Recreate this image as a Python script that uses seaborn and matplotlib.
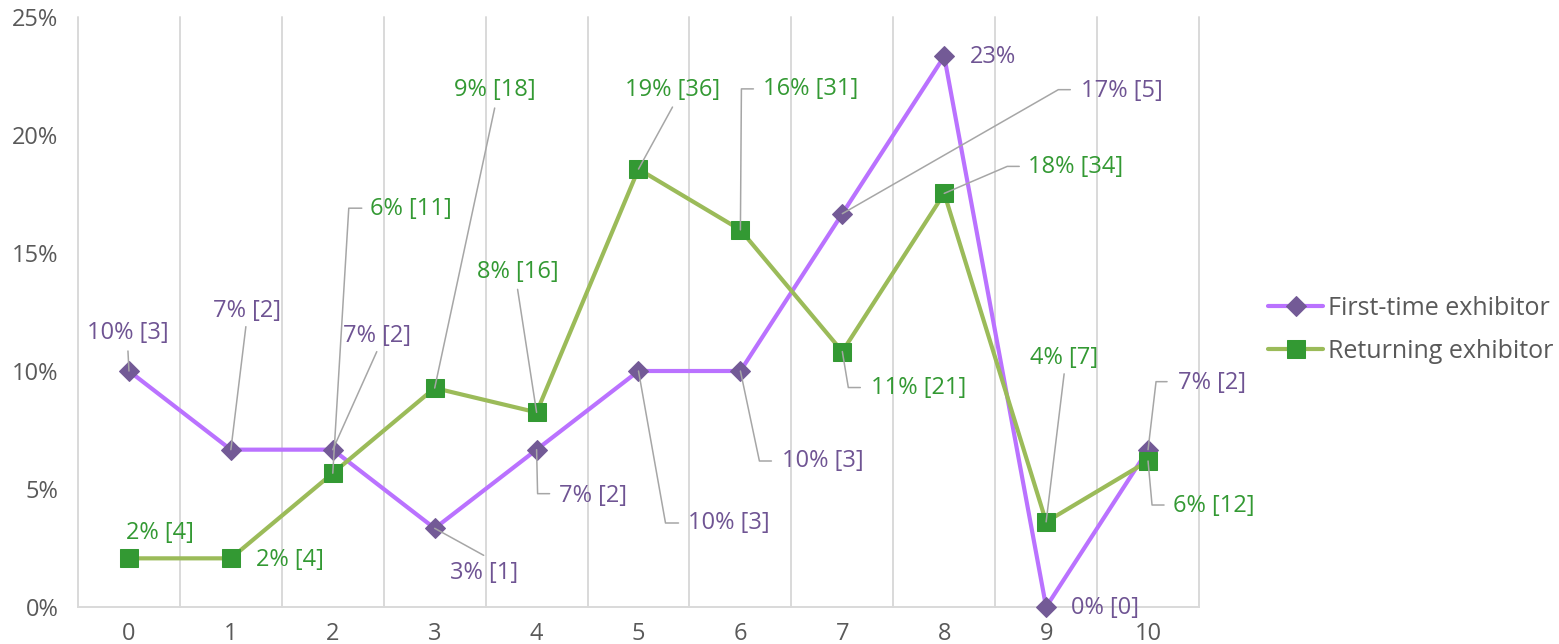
import numpy as np
import pandas as pd
import matplotlib
matplotlib.use("Agg")
import matplotlib.pyplot as plt
import seaborn as sns

# ---- data -------------------------------------------------------------
categories = list(range(11))
x_tick_labels = [str(c) for c in categories]
y_ticks = [0, 5, 10, 15, 20, 25]
y_tick_labels = [f"{t}%" for t in y_ticks]

series_names = ["First-time exhibitor", "Returning exhibitor"]
first_time_counts = [3, 2, 2, 1, 2, 3, 3, 5, 7, 0, 2]
returning_counts = [4, 4, 11, 18, 16, 36, 31, 21, 34, 7, 12]
# whether the count is printed next to the share
first_time_show_count = [True, True, True, True, True, True, True, True, False, True, True]
returning_show_count = [True] * 11

# ---- label layout: (text offset px, alignment, leader waypoints px; y down) ----
first_time_layout = [
    ((-1, -38), "center", [(-1, -20)]),
    ((16, -139), "center", [(15, -123)]),
    ((44, -114), "center", [(44, -98)]),
    ((49, 45), "center", [(49, 27)]),
    ((22, 46), "left", [(1, 44), (13, 44)]),
    ((49, 152), "left", [(27, 152), (40, 152)]),
    ((42, 90), "left", [(19, 90), (31, 90)]),
    ((239, -123), "left", [(216, -124), (228, -124)]),
    ((26, 1), "left", []),
    ((25, 1), "left", []),
    ((30, -67), "left", [(8, -68), (19, -68)]),
]
returning_layout = [
    ((31, -25), "center", []),
    ((25, 2), "left", []),
    ((37, -264), "left", [(16, -265), (29, -265)]),
    ((60, -298), "center", [(60, -280)]),
    ((-19, -140), "center", [(-19, -123)]),
    ((34, -79), "center", [(34, -62)]),
    ((23, -141), "left", [(1, -141), (13, -141)]),
    ((29, 36), "left", [(6, 36), (18, 36)]),
    ((84, -26), "left", [(63, -27), (75, -27)]),
    ((18, -164), "center", [(18, -148)]),
    ((25, 45), "left", [(4, 44), (16, 44)]),
]

# ---- styling ---------------------------------------------------------
PURPLE_LINE = "#BA72FF"
PURPLE_MARK = "#735A96"
PURPLE_TEXT = "#6F5493"
GREEN_LINE = "#9BBB59"
GREEN_MARK = "#339933"
GREEN_TEXT = "#339933"
LEADER = "#A6A6A6"
GRID = "#D9D9D9"
TICK_TEXT = "#595959"
FONT_SIZE = 17
LEGEND_SIZE = 18

sns.set_theme(style="white")
plt.rcParams["font.family"] = ["Open Sans", "DejaVu Sans"]

first_share = np.array(first_time_counts) / sum(first_time_counts) * 100
returning_share = np.array(returning_counts) / sum(returning_counts) * 100

df = pd.DataFrame({
    "category": categories * 2,
    "share": np.concatenate([first_share, returning_share]),
    "series": [series_names[0]] * 11 + [series_names[1]] * 11,
})

fig = plt.figure(figsize=(15.59, 6.44), dpi=100)
ax = fig.add_axes([78 / 1559, 37 / 644, (1199 - 78) / 1559, (607 - 17) / 644])
ax.set_xlim(-0.5, 10.5)
ax.set_ylim(0, 25)

# vertical separators between categories
for b in np.arange(-0.5, 11, 1.0):
    ax.axvline(b, color=GRID, lw=1.4, zorder=0, clip_on=False)

for sp in ["top", "right", "left"]:
    ax.spines[sp].set_visible(False)
ax.spines["bottom"].set_color(GRID)
ax.spines["bottom"].set_linewidth(1.4)

styles = {
    series_names[0]: dict(color=PURPLE_LINE, marker="D", markerfacecolor=PURPLE_MARK,
                          markeredgecolor=PURPLE_MARK, markersize=10.5),
    series_names[1]: dict(color=GREEN_LINE, marker="s", markerfacecolor=GREEN_MARK,
                          markeredgecolor=GREEN_MARK, markersize=12.5),
}
for name in series_names:
    sub = df[df["series"] == name]
    sns.lineplot(data=sub, x="category", y="share", ax=ax, label=name,
                 linewidth=3, zorder=3, clip_on=False, **styles[name])

ax.set_xticks(categories)
ax.set_xticklabels(x_tick_labels)
ax.set_yticks(y_ticks)
ax.set_yticklabels(y_tick_labels)
ax.tick_params(axis="both", length=0, labelsize=FONT_SIZE, labelcolor=TICK_TEXT)
ax.tick_params(axis="y", pad=14)
ax.tick_params(axis="x", pad=11)
ax.set_xlabel("")
ax.set_ylabel("")
ax.get_legend().remove()


def add_labels(shares, counts, show, layout, color):
    for x, v, c, s, (toff, ha, leader) in zip(categories, shares, counts, show, layout):
        base = ax.transData.transform((x, v))
        inv = ax.transData.inverted()

        def to_data(dx, dy):
            return inv.transform((base[0] + dx, base[1] - dy))

        if leader:
            pts = [(x, v)] + [tuple(to_data(*p)) for p in leader]
            xs, ys = zip(*pts)
            ax.plot(xs, ys, color=LEADER, lw=1.1, zorder=5, clip_on=False)
        text = f"{v:.0f}%" + (f" [{c}]" if s else "")
        tx, ty = to_data(*toff)
        ax.text(tx, ty, text, ha=ha, va="center", color=color,
                fontsize=FONT_SIZE, zorder=6, clip_on=False)


add_labels(first_share, first_time_counts, first_time_show_count, first_time_layout, PURPLE_TEXT)
add_labels(returning_share, returning_counts, returning_show_count, returning_layout, GREEN_TEXT)

handles, labels = ax.get_legend_handles_labels()
fig.legend(handles, labels, loc="center left", bbox_to_anchor=(1268 / 1559, 1 - 330 / 644),
           frameon=False, fontsize=LEGEND_SIZE, labelcolor=TICK_TEXT, borderpad=0,
           borderaxespad=0, handlelength=2.2, handletextpad=0.2, labelspacing=0.72)

fig.savefig("out.png", dpi=100)
